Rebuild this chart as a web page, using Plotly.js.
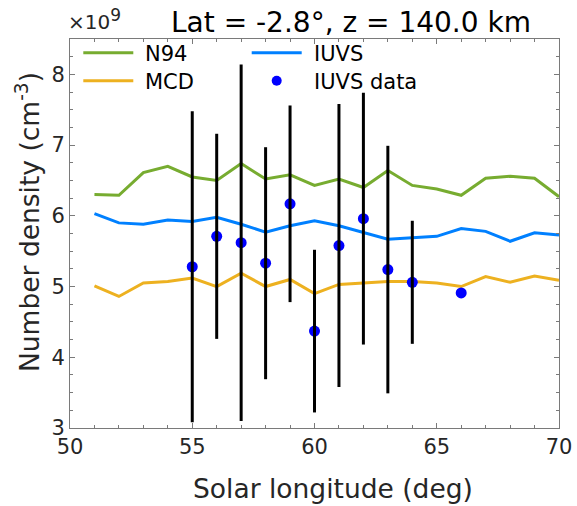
<!DOCTYPE html>
<html>
<head>
<meta charset="utf-8">
<script src="https://cdn.plot.ly/plotly-3.0.1.min.js"></script>
<style>html,body{margin:0;padding:0;background:#fff;}#chart{width:577px;height:506px;}</style>
</head>
<body>
<div id="chart"></div>
<script>
// Solar longitude grid for the model curves (deg)
var solarLong = [51,52,53,54,55,56,57,58,59,60,61,62,63,64,65,66,67,68,69,70];
// Number densities in units of 1e9 cm^-3
var n94 = [6.30,6.29,6.61,6.70,6.55,6.50,6.74,6.52,6.58,6.43,6.52,6.40,6.64,6.43,6.38,6.29,6.53,6.56,6.53,6.27];
var iuvsModel = [6.03,5.90,5.88,5.94,5.92,5.98,5.88,5.77,5.86,5.93,5.86,5.77,5.67,5.69,5.71,5.82,5.78,5.64,5.76,5.73];
var mcd = [5.01,4.86,5.05,5.07,5.12,5.00,5.19,5.00,5.10,4.90,5.03,5.05,5.07,5.07,5.05,5.00,5.14,5.06,5.15,5.09];
// IUVS observations
var dataLs = [55,56,57,58,59,60,61,62,63,64,66];
var dataVal = [5.28,5.71,5.62,5.33,6.17,4.37,5.58,5.96,5.24,5.06,4.91];
var dataErr = [2.20,1.45,2.52,1.64,1.39,1.15,2.00,1.78,1.75,0.87,0];
var xTicks = [50,55,60,65,70];
var yTicks = [3,4,5,6,7,8];
var seriesNames = ['N94','IUVS','MCD','IUVS data'];
var seriesColors = ['#77AC30','#0080FF','#EDB120','#0000FF'];

var FONT = 'DejaVu Sans, Verdana, sans-serif';
var axisCol = '#7a7a7a';
var textCol = '#262626';

var W = 577, H = 506;
var M = {l: 70, r: 18, t: 39, b: 78};
var PW = W - M.l - M.r, PH = H - M.t - M.b;
function px(x) { return (x - M.l) / PW; }
function py(y) { return (H - M.b - y) / PH; }

var traces = [
  {x: solarLong, y: n94, mode: 'lines', name: seriesNames[0], line: {color: seriesColors[0], width: 3}},
  {x: solarLong, y: iuvsModel, mode: 'lines', name: seriesNames[1], line: {color: seriesColors[1], width: 3}},
  {x: solarLong, y: mcd, mode: 'lines', name: seriesNames[2], line: {color: seriesColors[2], width: 3}},
  {x: dataLs, y: dataVal, mode: 'markers', name: seriesNames[3], marker: {color: seriesColors[3], size: 11}},
  {x: dataLs, y: dataVal, mode: 'markers', showlegend: false, hoverinfo: 'skip',
   marker: {color: 'rgba(0,0,0,0)', size: 1},
   error_y: {type: 'data', array: dataErr, visible: true, color: '#000000', thickness: 3, width: 0}}
];

// legend (drawn as layout decoration, two columns like the reference)
var legRows = [52.7, 80.7];
var legCols = [83.3, 251.7];
var legItems = [
  {name: seriesNames[0], col: 0, row: 0, kind: 'line', color: seriesColors[0]},
  {name: seriesNames[2], col: 0, row: 1, kind: 'line', color: seriesColors[2]},
  {name: seriesNames[1], col: 1, row: 0, kind: 'line', color: seriesColors[1]},
  {name: seriesNames[3], col: 1, row: 1, kind: 'dot', color: seriesColors[3]}
];
var shapes = [], annotations = [];
legItems.forEach(function (it) {
  var x0 = legCols[it.col], yc = legRows[it.row];
  if (it.kind === 'line') {
    shapes.push({type: 'line', xref: 'paper', yref: 'paper', x0: px(x0), x1: px(x0 + 50), y0: py(yc), y1: py(yc),
                 line: {color: it.color, width: 3}});
  } else {
    shapes.push({type: 'circle', xref: 'paper', yref: 'paper', x0: px(x0 + 20), x1: px(x0 + 30),
                 y0: py(yc + 5), y1: py(yc - 5), fillcolor: it.color, line: {width: 0}});
  }
  annotations.push({text: it.name, xref: 'paper', yref: 'paper', x: px(x0 + 60), y: py(yc + 1),
                    xanchor: 'left', yanchor: 'middle', showarrow: false,
                    font: {family: FONT, size: 21, color: '#000'}});
});
annotations.push({text: '×10<sup><span style="font-size:17px">9</span></sup>', xref: 'paper', yref: 'paper', x: px(66), y: py(36),
                  xanchor: 'left', yanchor: 'bottom', showarrow: false, font: {family: FONT, size: 20, color: textCol}});
annotations.push({text: 'Solar longitude (deg)', xref: 'paper', yref: 'paper', x: px(333), y: py(488),
                  xanchor: 'center', yanchor: 'middle', showarrow: false, font: {family: FONT, size: 26.5, color: textCol}});
annotations.push({text: 'Number density (cm<sup>-3</sup>)', xref: 'paper', yref: 'paper', x: px(28), y: py(222),
                  xanchor: 'center', yanchor: 'middle', textangle: -90, showarrow: false,
                  font: {family: FONT, size: 26.5, color: textCol}});

var layout = {
  width: W, height: H,
  margin: M,
  paper_bgcolor: '#ffffff', plot_bgcolor: '#ffffff',
  font: {family: FONT, color: textCol, size: 21},
  showlegend: false,
  title: {text: 'Lat = -2.8°, z = 140.0 km', x: 351 / W, xref: 'container', xanchor: 'center',
          y: 1 - 22 / H, yref: 'container', yanchor: 'middle', font: {family: FONT, size: 28, color: '#000'}},
  xaxis: {
    range: [50, 70], tickvals: xTicks, ticks: 'inside', ticklen: 5, tickcolor: axisCol,
    minor: {dtick: 1, ticks: 'inside', ticklen: 3, tickcolor: axisCol},
    showline: true, linecolor: axisCol, linewidth: 1, mirror: 'ticks', showgrid: false, zeroline: false,
    tickfont: {family: FONT, size: 21, color: textCol}
  },
  yaxis: {
    range: [3, 8.5], tickvals: yTicks, ticks: 'inside', ticklen: 5, tickcolor: axisCol,
    minor: {dtick: 0.25, ticks: 'inside', ticklen: 3, tickcolor: axisCol},
    showline: true, linecolor: axisCol, linewidth: 1, mirror: 'ticks', showgrid: false, zeroline: false,
    tickfont: {family: FONT, size: 21, color: textCol}
  },
  shapes: shapes,
  annotations: annotations
};

Plotly.newPlot('chart', traces, layout, {displayModeBar: false, staticPlot: true});
</script>
</body>
</html>
